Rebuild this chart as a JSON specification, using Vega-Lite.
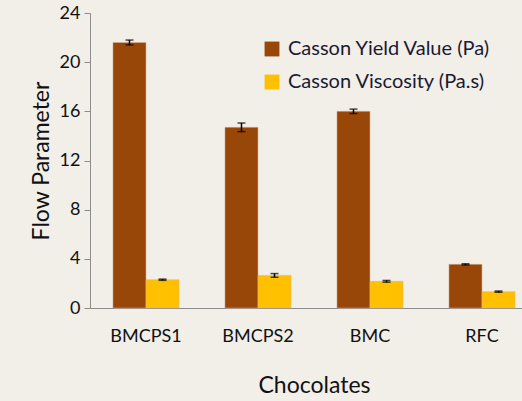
{
  "$schema": "https://vega.github.io/schema/vega-lite/v6.json",
  "autosize": {"type": "none"},
  "width": 432,
  "height": 295,
  "padding": {"left": 90, "top": 13, "right": 0, "bottom": 93},
  "background": "#f2eee8",
  "config": {
    "view": {"stroke": null},
    "font": "Lato",
    "axis": {"labelFont": "Lato", "titleFont": "Lato", "labelColor": "#111", "titleColor": "#111", "domainColor": "#8c8c8c", "tickColor": "#8c8c8c", "grid": false}
  },
  "data": {
    "values": [
      {"chocolate": "BMCPS1", "param": "Casson Yield Value (Pa)", "value": 21.6, "lo": 21.4, "hi": 21.8},
      {"chocolate": "BMCPS1", "param": "Casson Viscosity (Pa.s)", "value": 2.3, "lo": 2.25, "hi": 2.35},
      {"chocolate": "BMCPS2", "param": "Casson Yield Value (Pa)", "value": 14.7, "lo": 14.35, "hi": 15.05},
      {"chocolate": "BMCPS2", "param": "Casson Viscosity (Pa.s)", "value": 2.65, "lo": 2.5, "hi": 2.8},
      {"chocolate": "BMC", "param": "Casson Yield Value (Pa)", "value": 16.0, "lo": 15.82, "hi": 16.18},
      {"chocolate": "BMC", "param": "Casson Viscosity (Pa.s)", "value": 2.17, "lo": 2.1, "hi": 2.24},
      {"chocolate": "RFC", "param": "Casson Yield Value (Pa)", "value": 3.55, "lo": 3.5, "hi": 3.6},
      {"chocolate": "RFC", "param": "Casson Viscosity (Pa.s)", "value": 1.33, "lo": 1.28, "hi": 1.38}
    ]
  },
  "encoding": {
    "x": {
      "field": "chocolate", "type": "nominal", "sort": ["BMCPS1", "BMCPS2", "BMC", "RFC"],
      "scale": {"range": [0, 448], "paddingInner": 0.41, "paddingOuter": 0.205},
      "axis": {"title": "Chocolates", "labelAngle": 0, "ticks": false, "labelFontSize": 18, "labelPadding": 19, "titleFontSize": 23, "titleFontWeight": "normal", "titlePadding": 29}
    },
    "xOffset": {"field": "param", "type": "nominal", "sort": ["Casson Yield Value (Pa)", "Casson Viscosity (Pa.s)"]}
  },
  "layer": [
    {
      "mark": {"type": "bar", "stroke": "#d9b38c", "strokeWidth": 0.5},
      "encoding": {
        "y": {
          "field": "value", "type": "quantitative",
          "scale": {"domain": [0, 24]},
          "axis": {"title": "Flow Parameter", "values": [0, 4, 8, 12, 16, 20, 24], "labelFontSize": 18, "tickSize": 6, "labelPadding": 4, "titleFontSize": 23, "titleFontWeight": "normal", "titlePadding": 6}
        },
        "color": {
          "field": "param", "type": "nominal",
          "sort": ["Casson Yield Value (Pa)", "Casson Viscosity (Pa.s)"],
          "scale": {"domain": ["Casson Yield Value (Pa)", "Casson Viscosity (Pa.s)"], "range": ["#994709", "#ffc000"]},
          "legend": {"title": null, "orient": "none", "legendX": 172, "legendY": 26, "symbolType": "square", "symbolSize": 220, "symbolStrokeWidth": 0, "labelFontSize": 20, "labelLimit": 400, "labelColor": "#1a1a33", "rowPadding": 13, "labelOffset": 6}
        }
      }
    },
    {
      "mark": {"type": "rule", "color": "#000", "strokeWidth": 1.5},
      "encoding": {"y": {"field": "lo", "type": "quantitative"}, "y2": {"field": "hi"}}
    },
    {
      "mark": {"type": "tick", "color": "#000", "thickness": 1.5, "size": 8},
      "encoding": {"y": {"field": "lo", "type": "quantitative"}}
    },
    {
      "mark": {"type": "tick", "color": "#000", "thickness": 1.5, "size": 8},
      "encoding": {"y": {"field": "hi", "type": "quantitative"}}
    }
  ]
}
